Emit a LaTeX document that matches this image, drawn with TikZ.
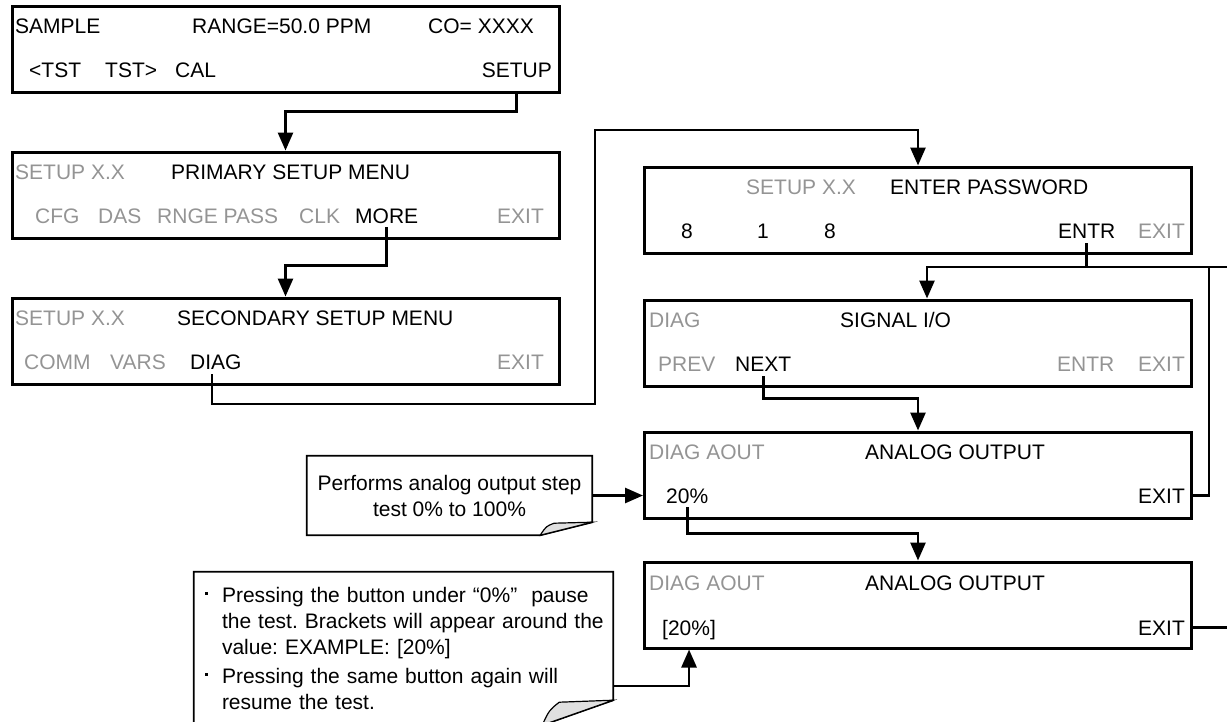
\documentclass[tikz,border=0pt]{standalone}
\usepackage{fontspec}
\setmainfont{Liberation Sans}
\usepackage{tikz}
\usetikzlibrary{arrows.meta}
\definecolor{keygray}{gray}{0.58}
\newcommand{\notebul}{\rule[8pt]{3pt}{2.5pt}}
\frenchspacing

\begin{document}
\begin{tikzpicture}[x=1pt, y=-1pt, font=\fontsize{21}{26}\selectfont,
  lcd/.style={draw=black, line width=3pt, minimum width=547pt, minimum height=86pt, inner sep=0pt},
  key/.style={inner sep=0pt, anchor=base west, text=black},
  dimkey/.style={key, text=keygray},
  note/.style={inner sep=0pt, align=center},
  noteline/.style={draw=black, line width=1.8pt},
  fold/.style={draw=black, line width=1.2pt, fill=black!12},
  wire/.style={draw=black, line width=2.7pt},
  arr/.style={wire, -{Triangle[length=18pt,width=15pt]}}]
\useasboundingbox (0,0) rectangle (1227,721);
% sample screen
\node[lcd] (smp) at (285.5,49) {};
\node[key] (smp-mode) at (15,33) {SAMPLE};
\node[key] (smp-range) at (192,33) {RANGE=50.0 PPM};
\node[key] (smp-conc) at (428,33) {CO= XXXX};
\node[key] (smp-tstl) at (29,77) {<TST};
\node[key] (smp-tstr) at (105,77) {TST>};
\node[key] (smp-cal) at (175,77) {CAL};
\node[key, anchor=base east] (smp-setup) at (552,77) {SETUP};
% primary setup menu
\node[lcd] (pri) at (285.5,195) {};
\node[dimkey] (pri-id) at (15,179) {SETUP X.X};
\node[key] (pri-title) at (171,179) {PRIMARY SETUP MENU};
\node[dimkey] (pri-cfg) at (35,223) {CFG};
\node[dimkey] (pri-das) at (98,223) {DAS};
\node[dimkey] (pri-rnge) at (157,223) {RNGE PASS};
\node[dimkey] (pri-clk) at (299,223) {CLK};
\node[key] (pri-more) at (355,223) {MORE};
\node[dimkey] (pri-exit) at (497,223) {EXIT};
% secondary setup menu
\node[lcd] (sec) at (285.5,341) {};
\node[dimkey] (sec-id) at (15,325) {SETUP X.X};
\node[key] (sec-title) at (177,325) {SECONDARY SETUP MENU};
\node[dimkey] (sec-comm) at (24,369) {COMM};
\node[dimkey] (sec-vars) at (110,369) {VARS};
\node[key] (sec-diag) at (190,369) {DIAG};
\node[dimkey] (sec-exit) at (497,369) {EXIT};
% password
\node[lcd] (pwd) at (918,210) {};
\node[dimkey] (pwd-id) at (746,194) {SETUP X.X};
\node[key] (pwd-title) at (890,194) {ENTER PASSWORD};
\node[key] (pwd-d1) at (681,238) {8};
\node[key] (pwd-d2) at (757,238) {1};
\node[key] (pwd-d3) at (824,238) {8};
\node[key] (pwd-entr) at (1058,238) {ENTR};
\node[dimkey] (pwd-exit) at (1138,238) {EXIT};
% signal i/o
\node[lcd] (sio) at (918,343) {};
\node[dimkey] (sio-id) at (649,327) {DIAG};
\node[key] (sio-title) at (840,327) {SIGNAL I/O};
\node[dimkey] (sio-prev) at (658,371) {PREV};
\node[key] (sio-next) at (735,371) {NEXT};
\node[dimkey] (sio-entr) at (1057,371) {ENTR};
\node[dimkey] (sio-exit) at (1138,371) {EXIT};
% analog output
\node[lcd] (aout) at (918,475) {};
\node[dimkey] (aout-id) at (649,459) {DIAG AOUT};
\node[key] (aout-title) at (865,459) {ANALOG OUTPUT};
\node[key] (aout-pct) at (666,503) {20\%};
\node[key] (aout-exit) at (1138,503) {EXIT};
% analog output, held
\node[lcd] (hold) at (918,605) {};
\node[dimkey] (hold-id) at (649,590) {DIAG AOUT};
\node[key] (hold-title) at (865,590) {ANALOG OUTPUT};
\node[key] (hold-pct) at (662,635) {[20\%]};
\node[key] (hold-exit) at (1138,635) {EXIT};
% notes
\node[note, minimum width=285pt, minimum height=79pt] (step) at (449.5,495.5) {Performs analog output step\\test 0\% to 100\%};
\draw[noteline] (step.north west) -- (step.north east) -- ([yshift=13pt]step.south east) -- ([xshift=-52pt]step.south east) -- (step.south west) -- cycle;
\filldraw[fold] ([xshift=-52pt]step.south east) .. controls ([xshift=-46pt,yshift=9pt]step.south east) .. ([xshift=-38pt,yshift=12pt]step.south east) -- ([yshift=13pt]step.south east) -- cycle;
\node[note, align=left, text width=419pt, minimum height=153pt] (pause) at (403.5,648.5) {%
\hspace*{11pt}\makebox[17pt][l]{\notebul}Pressing the button under “0\%”~\ pause\\
\hspace*{28pt}the test. Brackets will appear around the\\
\hspace*{28pt}value: EXAMPLE: [20\%]\\[3pt]
\hspace*{11pt}\makebox[17pt][l]{\notebul}Pressing the same button again will\\
\hspace*{28pt}resume the test.};
\draw[noteline] (pause.north west) -- (pause.north east) -- ([yshift=25pt]pause.south east) -- ([xshift=-71pt]pause.south east) -- (pause.south west) -- cycle;
\filldraw[fold] ([xshift=-71pt]pause.south east) .. controls ([xshift=-64pt,yshift=15pt]pause.south east) .. ([xshift=-54pt,yshift=23pt]pause.south east) -- ([yshift=25pt]pause.south east) -- cycle;
% connectors
\coordinate (lp-bot) at (595,404);
\coordinate (lp-top) at (595,130);
\coordinate (rbus) at (1227,267);
\coordinate (rdrop) at (1209,267);
\draw[arr] (smp-setup.south |- smp.south) -- ++(0,18) -| (pri.north);
\draw[arr] ([yshift=-4pt]pri-more.south) -- ++(0,38) -| (sec.north);
\draw[arr] ([xshift=-4pt,yshift=-5pt]sec-diag.south) |- (lp-bot) -- (lp-top) -| (pwd.north);
\draw[wire] ([yshift=-5pt]pwd-entr.south) |- (rbus);
\draw[arr] (pwd-entr.south |- rbus) -| ([xshift=9pt]sio.north);
\draw[arr] ([yshift=-5pt]sio-next.south) -- ++(0,22) -| (aout.north);
\draw[wire] (aout.east |- aout-exit.east) -| (rdrop);
\draw[arr] (step.east) -- (step.east -| aout.west);
\draw[arr] ([yshift=-4pt]aout-pct.south) -- ++(0,26) -| (hold.north);
\draw[arr] ([yshift=-37.5pt]pause.east) -| (hold-pct.center |- hold.south);
\draw[wire] (hold.east |- hold-exit.east) -- (hold-exit.east -| rbus);
\end{tikzpicture}
\end{document}
